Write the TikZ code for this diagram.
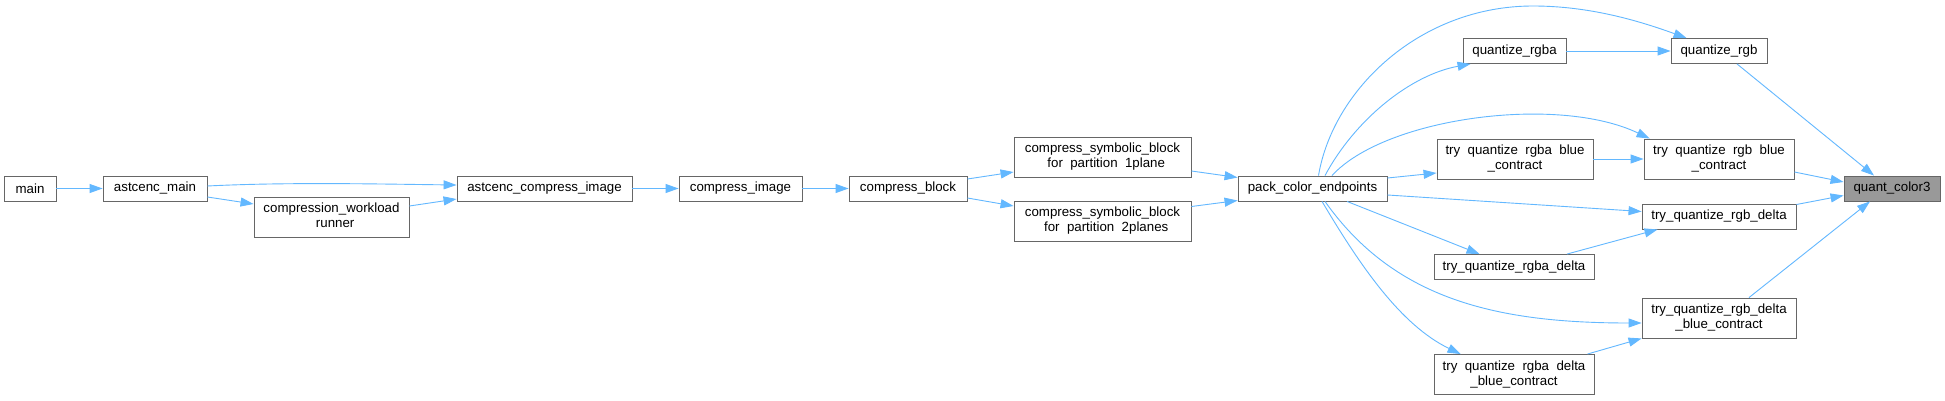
\documentclass[tikz,border=0pt]{standalone}
\usepackage{fontspec}
\setmainfont{Liberation Sans}
\usetikzlibrary{arrows.meta,calc}
\definecolor{edgeblue}{HTML}{63B8FF}
\definecolor{boxline}{HTML}{666666}
\definecolor{rootfill}{HTML}{999999}
\newcommand{\gapus}{\phantom{\_}}
\tikzset{
  fn/.style={draw=boxline, line width=0.9pt, fill=white, inner sep=0pt, align=center,
    font=\fontsize{13.3}{15}\selectfont, text=black},
  rootfn/.style={fn, fill=rootfill},
  call/.style={draw=edgeblue, line width=0.9pt, -{Triangle[length=13pt,width=9pt]}},
}
\begin{document}
\begin{tikzpicture}[x=1pt,y=-1pt]
\useasboundingbox (0,0) rectangle (1945,401);
\fill[white] (0,0) rectangle (1945,401);
% nodes
\node[fn, minimum width=52pt, minimum height=25pt] (main) at (30,188.5) {main};
\node[fn, minimum width=104pt, minimum height=25pt] (amain) at (155,188.5) {astcenc\_main};
\node[fn, minimum width=155pt, minimum height=40pt] (cwr) at (331.5,217) {compression\_workload\\\gapus runner};
\node[fn, minimum width=175pt, minimum height=25pt] (aci) at (544.5,188.5) {astcenc\_compress\_image};
\node[fn, minimum width=123pt, minimum height=25pt] (cimg) at (740.5,188.5) {compress\_image};
\node[fn, minimum width=118pt, minimum height=25pt] (cblock) at (908,188.5) {compress\_block};
\node[fn, minimum width=177pt, minimum height=40pt] (csb1) at (1102.5,157) {compress\_symbolic\_block\\\gapus for\gapus partition\gapus 1plane};
\node[fn, minimum width=177pt, minimum height=40pt] (csb2) at (1102.5,221) {compress\_symbolic\_block\\\gapus for\gapus partition\gapus 2planes};
\node[fn, minimum width=149pt, minimum height=25pt] (pce) at (1312.5,188.5) {pack\_color\_endpoints};
\node[fn, minimum width=103pt, minimum height=25pt] (qrgba) at (1514.5,51) {quantize\_rgba};
\node[fn, minimum width=96pt, minimum height=25pt] (qrgb) at (1719,51) {quantize\_rgb};
\node[fn, minimum width=156pt, minimum height=40pt] (tqrgbabc) at (1515,159) {try\gapus quantize\gapus rgba\gapus blue\\\_contract};
\node[fn, minimum width=150pt, minimum height=40pt] (tqrgbbc) at (1719,159) {try\gapus quantize\gapus rgb\gapus blue\\\_contract};
\node[fn, minimum width=154pt, minimum height=25pt] (tqrgbd) at (1719,216.5) {try\_quantize\_rgb\_delta};
\node[fn, minimum width=160pt, minimum height=25pt] (tqrgbad) at (1514,267) {try\_quantize\_rgba\_delta};
\node[fn, minimum width=154pt, minimum height=40pt] (tqrgbdbc) at (1719,318) {try\_quantize\_rgb\_delta\\\_blue\_contract};
\node[fn, minimum width=160pt, minimum height=40pt] (tqrgbadbc) at (1514,374.5) {try\gapus quantize\gapus rgba\gapus delta\\\_blue\_contract};
\node[rootfn, minimum width=96pt, minimum height=25pt] (qc3) at (1892,188.5) {quant\_color3};
\coordinate (qtop) at (1533,6);
% edges
\draw[call] (main.east) -- (amain.west);
\draw[call] ($(amain.east)+(0,-2.5)$) .. controls +(80,-4) and +(-80,-1) .. ($(aci.west)+(0,-3.5)$);
\draw[call] ($(amain.east)+(0,8.5)$) -- ($(cwr.west)+(0,-13)$);
\draw[call] ($(cwr.east)+(0,-11)$) -- ($(aci.west)+(0,10.5)$);
\draw[call] (aci.east) -- (cimg.west);
\draw[call] (cimg.east) -- (cblock.west);
\draw[call] ($(cblock.east)+(0,-9.5)$) -- ($(csb1.west)+(0,15)$);
\draw[call] ($(cblock.east)+(0,9.5)$) -- ($(csb2.west)+(0,-15)$);
\draw[call] ($(csb1.east)+(0,14)$) -- ($(pce.west)+(0,-11)$);
\draw[call] ($(csb2.east)+(0,-14.5)$) -- ($(pce.west)+(0,12)$);
\draw[call] ($(pce.north)+(6,0)$) .. controls +(14.5,-86) and +(-113,0) .. (qtop)
   .. controls +(57,0) and +(-47,-17) .. ($(qrgb.north west)+(16,0)$);
\draw[call] ($(pce.north)+(12.5,0)$) .. controls +(30,-56) and +(-60,11) .. ($(qrgba.south west)+(8,0)$);
\draw[call] (qrgba.east) -- (qrgb.west);
\draw[call] ($(pce.north)+(19.5,0)$) .. controls +(53,-58) and +(-92,-44) .. ($(tqrgbbc.north west)+(6,0)$);
\draw[call] ($(pce.east)+(0,-10.5)$) -- ($(tqrgbabc.west)+(0,14)$);
\draw[call] (tqrgbabc.east) -- (tqrgbbc.west);
\draw[call] ($(tqrgbbc.east)+(0,13)$) -- ($(qc3.west)+(0,-6.5)$);
\draw[call] ($(qrgb.south)+(18,0)$) -- ($(qc3.north)+(-18,0)$);
\draw[call] ($(pce.east)+(0,6.5)$) -- ($(tqrgbd.west)+(0,-5)$);
\draw[call] ($(tqrgbd.east)+(0,-12)$) -- ($(qc3.west)+(0,7)$);
\draw[call] ($(pce.south)+(34.5,0)$) -- ($(tqrgbad.north west)+(46,0)$);
\draw[call] ($(tqrgbad.north)+(53,0)$) -- ($(tqrgbd.south west)+(16,0)$);
\draw[call] ($(tqrgbdbc.north)+(30,0)$) -- ($(qc3.south)+(-22,0)$);
\draw[call] ($(pce.south)+(12.5,0)$) .. controls +(70,99) and +(-143,0) .. ($(tqrgbdbc.west)+(0,5)$);
\draw[call] ($(pce.south)+(9.5,0)$) .. controls +(38,64) and +(-60,-29) .. ($(tqrgbadbc.north west)+(27,0)$);
\draw[call] ($(tqrgbadbc.north east)+(-7,0)$) -- (tqrgbdbc.south west);
\end{tikzpicture}
\end{document}
